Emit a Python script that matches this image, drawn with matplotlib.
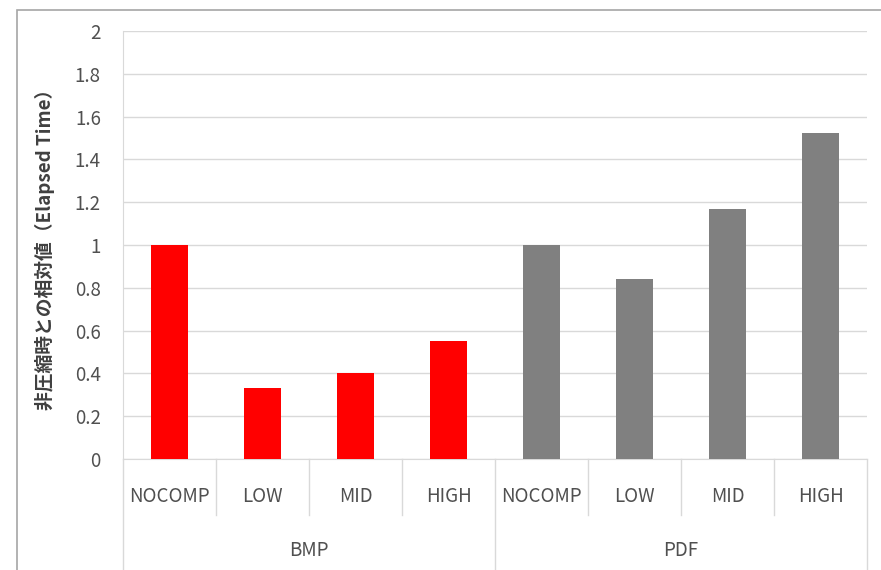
import matplotlib
matplotlib.use('Agg')
import matplotlib.pyplot as plt
import matplotlib.transforms as mtransforms
from matplotlib.patches import Rectangle

plt.rcParams['font.family'] = ['Noto Sans CJK JP', 'DejaVu Sans']

# relative elapsed time vs. no compression
groups = ['BMP', 'PDF']
levels = ['NOCOMP', 'LOW', 'MID', 'HIGH']
bmp_values = [1.0, 0.33, 0.40, 0.55]
pdf_values = [1.0, 0.84, 1.17, 1.525]
group_colors = ['#ff0000', '#808080']
y_ticks = [0, 0.2, 0.4, 0.6, 0.8, 1, 1.2, 1.4, 1.6, 1.8, 2]
y_label = '非圧縮時との相対値（Elapsed Time）'

W, H = 881, 570
fig = plt.figure(figsize=(W / 100, H / 100), dpi=100)
ax = fig.add_axes([123 / W, 1 - 459 / H, (867 - 123) / W, (459 - 31) / H])

# outer chart frame (only left/top edges fall inside the canvas)
fig.patches.append(Rectangle((17 / W, -0.1), 1.2, 1 - 10 / H + 0.1,
                             transform=fig.transFigure, fill=False,
                             edgecolor='#a6a6a6', linewidth=1.2))

grid = '#d9d9d9'
tick_color = '#505050'
n = len(levels)
all_values = [bmp_values, pdf_values]
for gi, vals in enumerate(all_values):
    xs = [gi * n + i for i in range(n)]
    ax.bar(xs, vals, width=0.4, color=group_colors[gi], zorder=3)

ax.set_xlim(-0.5, len(groups) * n - 0.5)
ax.set_ylim(0, 2)
ax.set_yticks(y_ticks)
ax.set_yticklabels([f'{t:g}' for t in y_ticks])
ax.yaxis.grid(True, color=grid, linewidth=1)
ax.set_axisbelow(True)
ax.tick_params(axis='y', length=0, pad=16, labelsize=13.5, labelcolor=tick_color)
ax.set_xticks([])
for side in ('top', 'right'):
    ax.spines[side].set_visible(False)
ax.spines['left'].set_color(grid)
ax.spines['bottom'].set_color(grid)
ax.set_ylabel(y_label, fontsize=13.5, fontweight='bold', color='#404040', labelpad=14)

# two-level category axis
trans = mtransforms.blended_transform_factory(ax.transData, ax.transAxes)
px = 1.0 / (459 - 31)  # one pixel in axes units (vertical)
for gi, g in enumerate(groups):
    for i, lv in enumerate(levels):
        ax.text(gi * n + i, -38 * px, lv, transform=trans, ha='center', va='center',
                fontsize=13.5, color=tick_color)
    ax.text(gi * n + (n - 1) / 2, -91 * px, g, transform=trans, ha='center', va='center',
            fontsize=13.5, color=tick_color)

for k in range(len(groups) * n + 1):
    x = k - 0.5
    bottom = -120 * px if k % n == 0 else -56 * px
    ax.plot([x, x], [0, bottom], transform=trans, color=grid, linewidth=1, clip_on=False)

fig.savefig('out.png', dpi=100)
